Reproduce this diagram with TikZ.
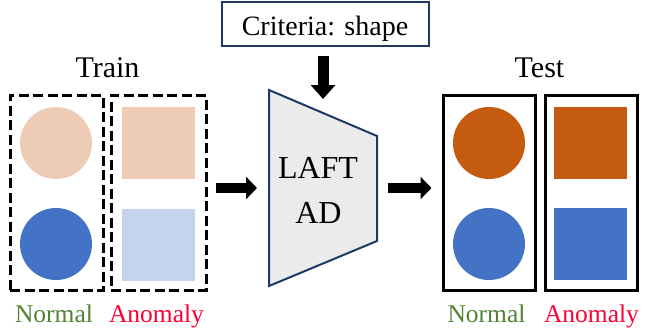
\documentclass[tikz,border=0pt]{standalone}
\usepackage{fontspec}
\setmainfont{Liberation Serif}
\usetikzlibrary{arrows.meta}
\definecolor{lorange}{HTML}{EDCBB5}
\definecolor{dorange}{HTML}{C55A11}
\definecolor{mblue}{HTML}{4472C4}
\definecolor{lblue}{HTML}{C5D4EE}
\definecolor{ngreen}{HTML}{548235}
\definecolor{ared}{HTML}{FF0033}
\definecolor{navy}{HTML}{1F3864}
\definecolor{tgray}{HTML}{EBEBEB}
\tikzset{
  dbox/.style={draw=black, line width=3pt, dash pattern=on 10pt off 4.5pt, minimum width=#1, minimum height=195pt, inner sep=0pt},
  sbox/.style={draw=black, line width=3pt, minimum width=92pt, minimum height=195pt, inner sep=0pt},
  disc/.style={circle, fill=#1, minimum size=72pt, inner sep=0pt},
  sq/.style={rectangle, fill=#1, minimum width=73pt, minimum height=72pt, inner sep=0pt},
  lbl/.style={font=\fontsize{25.5}{30}\selectfont, inner sep=0pt, anchor=base},
  ttl/.style={font=\fontsize{30}{34}\selectfont, inner sep=0pt, anchor=base},
  bigtxt/.style={font=\fontsize{32}{36}\selectfont, inner sep=0pt, anchor=base},
  bigarrow/.style={line width=10pt, -{Triangle[length=11pt,width=22pt]}},
}
\begin{document}
\begin{tikzpicture}[x=1pt,y=-1pt]
\useasboundingbox (0,0) rectangle (651,332);
% Train
\node[ttl] (train) at (107.5,77) {Train};
\node[dbox=93pt] (trainN) at (56.5,192.5) {};
\node[dbox=95pt] (trainA) at (158.5,192.5) {};
\node[disc=lorange] (c1) at (56,143) {};
\node[disc=mblue] (c2) at (56,244) {};
\node[sq=lorange] (s1) at (158.5,143) {};
\node[sq=lblue] (s2) at (158.5,244.5) {};
\node[lbl, text=ngreen] (n1) at (54,322) {Normal};
\node[lbl, text=ared] (a1) at (156.5,322) {Anomaly};
% Criteria
\node[draw=navy, line width=2pt, minimum width=207pt, minimum height=44pt, inner sep=0pt] (crit) at (325.5,24) {};
\node[font=\fontsize{28}{32}\selectfont, inner sep=0pt, anchor=base] (crittxt) at (325,35) {Criteria: shape};
% trapezoid
\coordinate (p1) at (269,90);
\coordinate (p2) at (377,136);
\coordinate (p3) at (377,241);
\coordinate (p4) at (269,286);
\draw[draw=navy, line width=2pt, fill=tgray, line join=miter] (p1) -- (p2) -- (p3) -- (p4) -- cycle;
\node[bigtxt] (laft) at (318,178) {LAFT};
\node[bigtxt] (ad) at (318.5,223) {AD};
\coordinate (trapL) at (268,188);
\coordinate (trapR) at (377,188);
\coordinate (trapT) at (323,113);
% Test
\node[ttl] (test) at (539.5,77) {Test};
\node[sbox] (testN) at (489,192.5) {};
\node[sbox] (testA) at (591,192.5) {};
\node[disc=dorange] (c3) at (489,143) {};
\node[disc=mblue] (c4) at (489,244) {};
\node[sq=dorange] (s3) at (590.5,142.5) {};
\node[sq=mblue] (s4) at (590.5,244) {};
\node[lbl, text=ngreen] (n2) at (486.5,322) {Normal};
\node[lbl, text=ared] (a2) at (591.5,322) {Anomaly};
% arrows
\draw[bigarrow, shorten <=8pt, shorten >=11pt] (trainA.east |- trapL) -- (trapL);
\draw[bigarrow, shorten <=11pt, shorten >=10pt] (trapR) -- (testN.west |- trapR);
\draw[line width=11pt, -{Triangle[length=14pt,width=24pt]}, shorten <=9pt, shorten >=14pt] (crit.south -| trapT) -- (trapT);
\end{tikzpicture}
\end{document}
